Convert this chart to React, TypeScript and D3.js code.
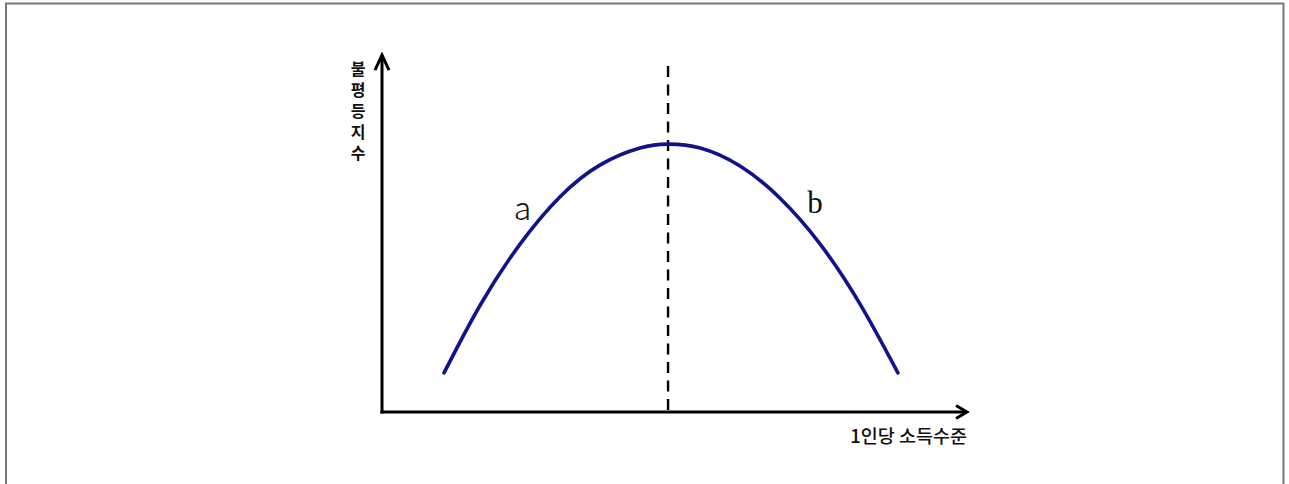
import React, { useEffect, useRef } from 'react';
import * as d3 from 'd3';

// 1인당 소득수준 (x) vs 불평등지수 (y), values on a 0-100 scale
const incomeLevels = [10.6, 16.8, 23.6, 30.4, 37.3, 44.1, 48.9, 54.4, 61.2, 68.0, 74.9, 81.7, 88.2];
const inequality = [11.1, 30.4, 47.7, 61.1, 70.2, 75.0, 76.1, 75.0, 69.9, 60.8, 47.7, 30.7, 11.1];
const turningPoint = [48.9];
const yAxisLabel = ['불평등지수'];
const xAxisLabel = ['1인당 소득수준'];
const curveLabels = ['a', 'b'];
const curveLabelPos = [[24.0, 54.5], [74.0, 56.5]];

const W = 1289;
const H = 484;

const App = () => {
  const svgRef = useRef(null);

  useEffect(() => {
    document.body.style.margin = '0';
    const svg = d3.select(svgRef.current);
    svg.selectAll('*').remove();

    const x = d3.scaleLinear().domain([0, 100]).range([382, 967]);
    const y = d3.scaleLinear().domain([0, 100]).range([412, 60]);

    // outer frame
    svg.append('rect')
      .attr('x', 6).attr('y', 3.5)
      .attr('width', 1277.5).attr('height', H + 10)
      .attr('fill', 'none')
      .attr('stroke', '#777')
      .attr('stroke-width', 2);

    const axisColor = '#000';
    // y axis
    svg.append('line')
      .attr('x1', x(0)).attr('y1', y(0) + 1.5)
      .attr('x2', x(0)).attr('y2', y(101.4))
      .attr('stroke', axisColor).attr('stroke-width', 3);
    svg.append('path')
      .attr('d', `M${x(0) - 7},${y(101.4) + 15} L${x(0)},${y(101.4)} L${x(0) + 7},${y(101.4) + 15}`)
      .attr('fill', 'none').attr('stroke', axisColor).attr('stroke-width', 3)
      .attr('stroke-linejoin', 'miter');

    // x axis
    svg.append('line')
      .attr('x1', x(0) - 1.5).attr('y1', y(0))
      .attr('x2', x(100)).attr('y2', y(0))
      .attr('stroke', axisColor).attr('stroke-width', 3);
    svg.append('path')
      .attr('d', `M${x(100) - 11},${y(0) - 6.5} L${x(100)},${y(0)} L${x(100) - 11},${y(0) + 6.5}`)
      .attr('fill', 'none').attr('stroke', axisColor).attr('stroke-width', 3);

    // dashed vertical at turning point
    svg.append('line')
      .attr('x1', x(turningPoint[0])).attr('y1', y(98.3))
      .attr('x2', x(turningPoint[0])).attr('y2', y(0))
      .attr('stroke', '#000').attr('stroke-width', 2.4)
      .attr('stroke-dasharray', '11 7.5');

    // Kuznets curve
    const pts = incomeLevels.map((v, i) => [v, inequality[i]]);
    const line = d3.line()
      .x((d) => x(d[0]))
      .y((d) => y(d[1]))
      .curve(d3.curveNatural);
    svg.append('path')
      .attr('d', line(pts))
      .attr('fill', 'none')
      .attr('stroke', '#12128a')
      .attr('stroke-width', 3.6)
      .attr('stroke-linecap', 'round');

    // curve labels
    svg.append('text')
      .attr('x', x(curveLabelPos[0][0])).attr('y', y(curveLabelPos[0][1]))
      .attr('text-anchor', 'middle')
      .attr('font-family', '"Noto Sans CJK KR", sans-serif')
      .attr('font-weight', 300)
      .attr('font-size', 32)
      .attr('fill', '#111')
      .text(curveLabels[0]);
    svg.append('text')
      .attr('x', x(curveLabelPos[1][0])).attr('y', y(curveLabelPos[1][1]))
      .attr('text-anchor', 'middle')
      .attr('font-family', '"Liberation Serif", serif')
      .attr('font-size', 31)
      .attr('fill', '#111')
      .text(curveLabels[1]);

    // y axis title, written top to bottom
    svg.append('text')
      .attr('x', 358)
      .attr('y', 61)
      .attr('text-anchor', 'start')
      .style('writing-mode', 'vertical-rl')
      .style('text-orientation', 'upright')
      .style('letter-spacing', '5px')
      .attr('font-family', '"Noto Sans CJK KR", sans-serif')
      .attr('font-weight', 700)
      .attr('font-size', 16)
      .attr('fill', '#111')
      .text(yAxisLabel[0]);

    svg.append('text')
      .attr('x', 967).attr('y', 443)
      .attr('text-anchor', 'end')
      .attr('font-family', '"Noto Sans CJK KR", sans-serif')
      .attr('font-weight', 500)
      .attr('font-size', 18.5)
      .attr('fill', '#111')
      .text(xAxisLabel[0]);
  }, []);

  return <svg ref={svgRef} width={W} height={H} style={{ display: 'block' }}></svg>;
};

export default App;
